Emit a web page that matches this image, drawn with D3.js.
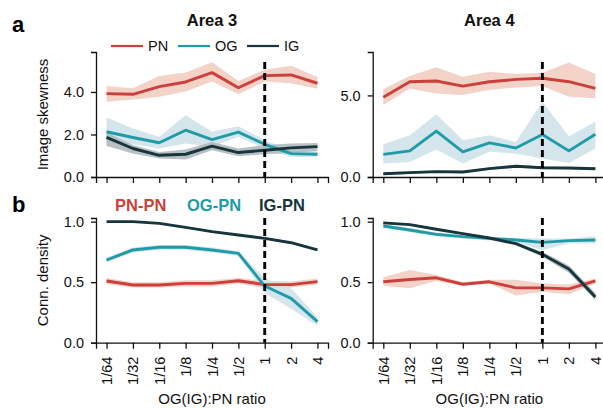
<!DOCTYPE html>
<html>
<head>
<meta charset="utf-8">
<script src="https://cdn.jsdelivr.net/npm/d3@7"></script>
<style>
  body { margin: 0; background: #fff; }
  svg { font-family: "Liberation Sans", Arial, sans-serif; }
  .axis path, .axis line { stroke: #111; stroke-width: 1.3; }
  .axis text { font-size: 14.5px; fill: #111; }
</style>
</head>
<body>
<div id="graf"></div>
<script>
// Datos
const ratios = ["1/64", "1/32", "1/16", "1/8", "1/4", "1/2", "1", "2", "4"]

// a - Area 3 (Image skewness)
const a3PN = [3.92, 3.89, 4.25, 4.47, 4.91, 4.20, 4.77, 4.80, 4.41]
const a3PNlo = [3.54, 3.65, 3.78, 4.02, 4.49, 3.89, 4.49, 4.41, 4.15]
const a3PNhi = [4.28, 4.17, 4.75, 4.91, 5.40, 4.52, 5.04, 5.23, 4.70]
const a3OG = [2.13, 1.86, 1.61, 2.20, 1.76, 2.11, 1.54, 1.10, 1.07]
const a3OGlo = [1.65, 1.54, 1.34, 1.57, 1.42, 1.89, 1.34, 0.94, 0.95]
const a3OGhi = [2.80, 2.28, 1.89, 2.91, 2.13, 2.39, 1.73, 1.26, 1.20]
const a3IG = [1.86, 1.34, 1.02, 1.07, 1.45, 1.15, 1.26, 1.37, 1.43]
const a3IGlo = [1.46, 1.10, 0.87, 0.82, 1.26, 0.98, 1.07, 1.13, 1.22]
const a3IGhi = [2.09, 1.50, 1.18, 1.29, 1.65, 1.34, 1.50, 1.57, 1.60]

// a - Area 4
const a4PN = [4.88, 5.84, 5.88, 5.57, 5.84, 5.98, 6.05, 5.84, 5.43]
const a4PNlo = [4.41, 5.43, 5.12, 5.02, 5.33, 5.49, 5.57, 4.92, 4.82]
const a4PNhi = [5.37, 6.19, 6.72, 6.15, 6.45, 6.31, 6.39, 7.01, 6.31]
const a4OG = [1.39, 1.60, 2.81, 1.54, 2.09, 1.78, 2.60, 1.60, 2.62]
const a4OGlo = [0.82, 0.92, 1.68, 0.82, 1.54, 1.43, 1.13, 0.86, 1.74]
const a4OGhi = [2.01, 2.56, 3.85, 2.25, 2.56, 2.15, 4.61, 2.50, 3.38]
const a4IG = [0.20, 0.27, 0.33, 0.31, 0.51, 0.66, 0.57, 0.55, 0.51]
const a4IGlo = [0.13, 0.20, 0.26, 0.24, 0.44, 0.59, 0.50, 0.48, 0.44]
const a4IGhi = [0.27, 0.34, 0.40, 0.38, 0.58, 0.73, 0.64, 0.62, 0.58]

// b - Area 3 (Conn. density)
const b3PN = [0.51, 0.477, 0.477, 0.49, 0.49, 0.512, 0.48, 0.48, 0.504]
const b3PNlo = [0.485, 0.455, 0.455, 0.465, 0.465, 0.49, 0.45, 0.455, 0.48]
const b3PNhi = [0.535, 0.50, 0.50, 0.515, 0.515, 0.535, 0.51, 0.505, 0.53]
const b3OG = [0.683, 0.766, 0.788, 0.788, 0.766, 0.738, 0.468, 0.366, 0.174]
const b3OGlo = [0.663, 0.746, 0.768, 0.768, 0.746, 0.718, 0.41, 0.28, 0.14]
const b3OGhi = [0.703, 0.786, 0.808, 0.808, 0.786, 0.758, 0.53, 0.45, 0.21]
const b3IG = [1.0, 1.0, 0.986, 0.953, 0.917, 0.89, 0.862, 0.826, 0.766]
const b3IGlo = [0.995, 0.995, 0.98, 0.946, 0.91, 0.883, 0.854, 0.818, 0.758]
const b3IGhi = [1.0, 1.0, 0.992, 0.96, 0.924, 0.897, 0.87, 0.834, 0.774]

// b - Area 4
const b4PN = [0.503, 0.522, 0.536, 0.483, 0.503, 0.453, 0.453, 0.445, 0.511]
const b4PNlo = [0.47, 0.45, 0.51, 0.47, 0.49, 0.39, 0.42, 0.40, 0.49]
const b4PNhi = [0.54, 0.60, 0.56, 0.50, 0.52, 0.52, 0.49, 0.48, 0.53]
const b4OG = [0.964, 0.931, 0.895, 0.876, 0.862, 0.848, 0.829, 0.843, 0.848]
const b4OGlo = [0.95, 0.915, 0.88, 0.86, 0.845, 0.83, 0.765, 0.82, 0.82]
const b4OGhi = [0.978, 0.947, 0.91, 0.89, 0.878, 0.866, 0.86, 0.86, 0.88]
const b4IG = [0.99, 0.975, 0.937, 0.901, 0.865, 0.818, 0.73, 0.608, 0.378]
const b4IGlo = [0.982, 0.967, 0.929, 0.893, 0.857, 0.808, 0.71, 0.578, 0.35]
const b4IGhi = [0.998, 0.983, 0.945, 0.909, 0.873, 0.828, 0.75, 0.638, 0.41]

// Colores
const colLine = { PN: "#cc3f3b", OG: "#1f9ba7", IG: "#17353d" }
const colBand = { PN: "#f2cdc2", OG: "#cfe2ea", IG: "#b0b9bc" }

// Dimensiones
const anchoTotal = 603
const altoTotal = 408

const svg = d3
  .select("#graf")
  .append("svg")
  .attr("width", anchoTotal)
  .attr("height", altoTotal)

const series = (m, lo, hi) => ratios.map((r, i) => ({ r, m: m[i], lo: lo[i], hi: hi[i] }))

const panel = (cfg) => {
  const x = d3.scalePoint().domain(ratios).range(cfg.xr).padding(0.4)
  const y = d3.scaleLinear().domain(cfg.yd).range(cfg.yr)
  const g = svg.append("g")

  // Ejes
  const xAxis = d3.axisBottom(x).tickSizeOuter(0).tickSize(6).tickPadding(8)
  const xg = g
    .append("g")
    .attr("class", "axis")
    .attr("transform", `translate(0, ${cfg.yr[0]})`)
    .call(xAxis)
  if (cfg.xlabels) {
    xg.selectAll("text")
      .attr("y", 0)
      .attr("x", -14)
      .attr("dy", "0.35em")
      .attr("transform", "rotate(-90)")
      .style("text-anchor", "end")
  } else {
    xg.selectAll("text").remove()
  }

  const yAxis = d3
    .axisLeft(y)
    .tickValues(cfg.yticks)
    .tickFormat(d3.format(".1f"))
    .tickSizeOuter(0)
    .tickSize(5)
    .tickPadding(7)
  g.append("g")
    .attr("class", "axis")
    .attr("transform", `translate(${cfg.xr[0]}, 0)`)
    .call(yAxis)

  // Bandas y lineas
  const area = d3
    .area()
    .x((d) => x(d.r))
    .y0((d) => y(d.lo))
    .y1((d) => y(d.hi))
  const line = d3
    .line()
    .x((d) => x(d.r))
    .y((d) => y(d.m))

  cfg.series.forEach((s) => {
    g.append("path").datum(s.data).attr("d", area).attr("fill", colBand[s.k]).attr("opacity", 0.9)
  })
  cfg.series.forEach((s) => {
    g.append("path")
      .datum(s.data)
      .attr("d", line)
      .attr("fill", "none")
      .attr("stroke", colLine[s.k])
      .attr("stroke-width", 2.9)
      .attr("stroke-linejoin", "round")
  })

  // Linea punteada en ratio 1
  g.append("line")
    .attr("x1", x("1"))
    .attr("x2", x("1"))
    .attr("y1", cfg.dashTop)
    .attr("y2", cfg.yr[0])
    .attr("stroke", "#000")
    .attr("stroke-width", 2.9)
    .attr("stroke-dasharray", "7,4")

  if (cfg.xtitle) {
    g.append("text")
      .attr("x", (cfg.xr[0] + cfg.xr[1]) / 2)
      .attr("y", 404)
      .attr("text-anchor", "middle")
      .style("font-size", "15px")
      .attr("fill", "#111")
      .text("OG(IG):PN ratio")
  }
  if (cfg.ytitle) {
    g.append("text")
      .attr("transform", `translate(48, ${(cfg.yr[0] + cfg.yr[1]) / 2}) rotate(-90)`)
      .attr("text-anchor", "middle")
      .style("font-size", "15px")
      .attr("fill", "#111")
      .text(cfg.ytitle)
  }
  if (cfg.title) {
    g.append("text")
      .attr("x", (cfg.xr[0] + cfg.xr[1]) / 2)
      .attr("y", 26)
      .attr("text-anchor", "middle")
      .style("font-size", "16.5px")
      .style("font-weight", "bold")
      .attr("fill", "#111")
      .text(cfg.title)
  }
}

const xLeft = [96, 328]
const xRight = [372.7, 606]

panel({
  xr: xLeft, yr: [177, 52], yd: [0, 5.88], yticks: [0, 2, 4], dashTop: 62,
  title: "Area 3", ytitle: "Image skewness",
  series: [
    { k: "PN", data: series(a3PN, a3PNlo, a3PNhi) },
    { k: "OG", data: series(a3OG, a3OGlo, a3OGhi) },
    { k: "IG", data: series(a3IG, a3IGlo, a3IGhi) },
  ],
})
panel({
  xr: xRight, yr: [177, 52], yd: [0, 7.66], yticks: [0, 5], dashTop: 62,
  title: "Area 4",
  series: [
    { k: "PN", data: series(a4PN, a4PNlo, a4PNhi) },
    { k: "OG", data: series(a4OG, a4OGlo, a4OGhi) },
    { k: "IG", data: series(a4IG, a4IGlo, a4IGhi) },
  ],
})
panel({
  xr: xLeft, yr: [342.7, 218], yd: [0, 1.03], yticks: [0, 0.5, 1], dashTop: 218,
  ytitle: "Conn. density", xlabels: true, xtitle: true,
  series: [
    { k: "PN", data: series(b3PN, b3PNlo, b3PNhi) },
    { k: "OG", data: series(b3OG, b3OGlo, b3OGhi) },
    { k: "IG", data: series(b3IG, b3IGlo, b3IGhi) },
  ],
})
panel({
  xr: xRight, yr: [342.7, 218], yd: [0, 1.03], yticks: [0, 0.5, 1], dashTop: 218,
  xlabels: true, xtitle: true,
  series: [
    { k: "PN", data: series(b4PN, b4PNlo, b4PNhi) },
    { k: "OG", data: series(b4OG, b4OGlo, b4OGhi) },
    { k: "IG", data: series(b4IG, b4IGlo, b4IGhi) },
  ],
})

// Leyenda a
const legA = [
  { k: "PN", x: 111 },
  { k: "OG", x: 178 },
  { k: "IG", x: 247 },
]
legA.forEach((d) => {
  svg.append("line")
    .attr("x1", d.x).attr("x2", d.x + 32)
    .attr("y1", 46).attr("y2", 46)
    .attr("stroke", colLine[d.k]).attr("stroke-width", 2.2)
  svg.append("text")
    .attr("x", d.x + 37).attr("y", 51)
    .style("font-size", "14.5px").attr("fill", "#111")
    .text(d.k)
})

// Leyenda b
const legB = [
  { k: "PN", t: "PN-PN", x: 115 },
  { k: "OG", t: "OG-PN", x: 187 },
  { k: "IG", t: "IG-PN", x: 259 },
]
legB.forEach((d) => {
  svg.append("text")
    .attr("x", d.x).attr("y", 211)
    .style("font-size", "16.5px").style("font-weight", "bold")
    .attr("fill", colLine[d.k])
    .text(d.t)
})

// Letras de panel
svg.append("text").attr("x", 12).attr("y", 32)
  .style("font-size", "22px").style("font-weight", "bold").text("a")
svg.append("text").attr("x", 12).attr("y", 212)
  .style("font-size", "22px").style("font-weight", "bold").text("b")
</script>
</body>
</html>
